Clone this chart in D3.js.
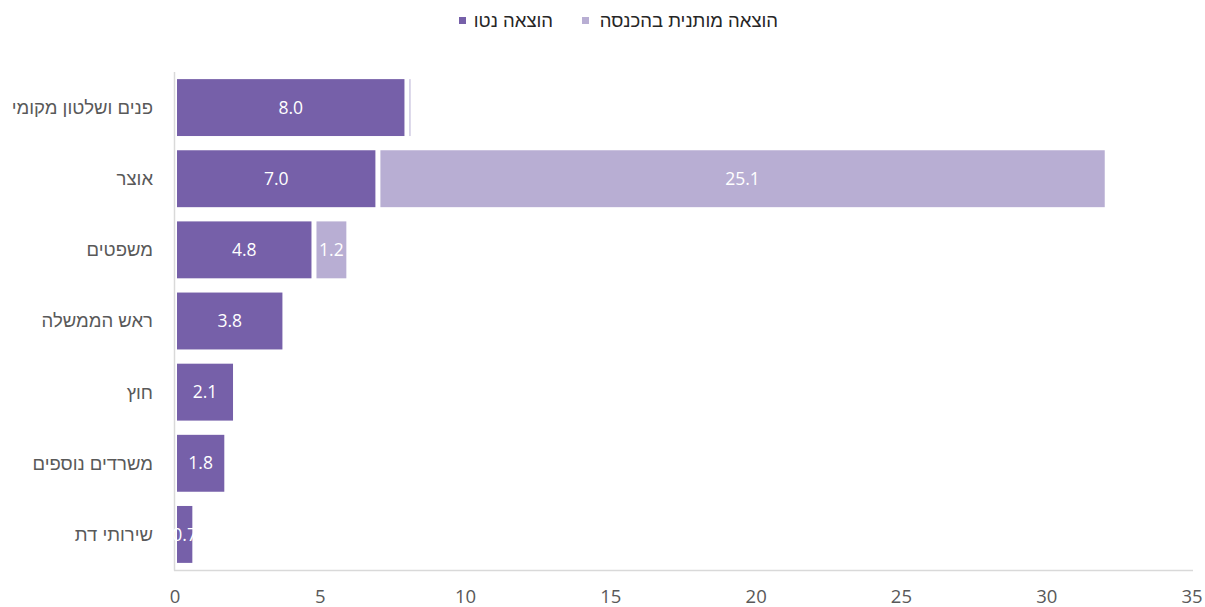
<!DOCTYPE html>
<html><head><meta charset="utf-8">
<script src="https://cdn.jsdelivr.net/npm/d3@7"></script>
<style>body{margin:0;background:#fff}svg{display:block}</style>
</head><body>
<svg id="c" width="1205" height="607"></svg>
<script>
const categories = ["פנים ושלטון מקומי","אוצר","משפטים","ראש הממשלה","חוץ","משרדים נוספים","שירותי דת"];
const netSpend = [8.0, 7.0, 4.8, 3.8, 2.1, 1.8, 0.7];
const conditionalSpend = [0.2, 25.1, 1.2, 0, 0, 0, 0];
const seriesNames = ["הוצאה נטו","הוצאה מותנית בהכנסה"];
const xTicks = [0,5,10,15,20,25,30,35];
const colors = ["#7660a9","#b8aed3"];
const font = "'Open Sans', 'Liberation Sans', sans-serif";
const hebFont = "'Liberation Sans', Arial, sans-serif";
const textColor = "#595959";

const svg = d3.select("#c");
const x = d3.scaleLinear().domain([0,35]).range([175,1192]);
const y = d3.scaleBand().domain(categories).range([72,570]).paddingInner(0.2).paddingOuter(0.1);

// axes lines
svg.append("line").attr("x1",174.5).attr("x2",174.5).attr("y1",72).attr("y2",570.5).attr("stroke","#d9d9d9").attr("stroke-width",1.5);
svg.append("line").attr("x1",174).attr("x2",1193).attr("y1",570.5).attr("y2",570.5).attr("stroke","#d9d9d9").attr("stroke-width",1.5);

// x tick labels
svg.selectAll(".xt").data(xTicks).enter().append("text")
  .attr("x",d=>x(d)).attr("y",603).attr("text-anchor","middle")
  .attr("font-family",font).attr("font-size",18.5).attr("fill",textColor).text(d=>d);

// category labels
svg.selectAll(".cat").data(categories).enter().append("text")
  .attr("x",153).attr("y",d=>y(d)+y.bandwidth()/2).attr("dy","0.35em")
  .attr("text-anchor","end").attr("font-family",hebFont).attr("font-size",18.5).attr("fill",textColor).text(d=>d);

const stacked = categories.map((c,i)=>{
  return [
    {c, s:0, e:netSpend[i], v:netSpend[i], k:0},
    {c, s:netSpend[i], e:netSpend[i]+conditionalSpend[i], v:conditionalSpend[i], k:1}
  ];
}).flat().filter(d=>d.v>0);

const g = svg.append("g");
g.selectAll("rect").data(stacked).enter().append("rect")
  .attr("x",d=>x(d.s)+2).attr("y",d=>y(d.c))
  .attr("width",d=>Math.max(1,x(d.e)-x(d.s)-5)).attr("height",y.bandwidth())
  .attr("fill",d=>colors[d.k]);

g.selectAll("text").data(stacked.filter(d=>x(d.e)-x(d.s)>12)).enter().append("text")
  .attr("x",d=>(x(d.s)+2 + x(d.e)-3)/2).attr("y",d=>y(d.c)+y.bandwidth()/2).attr("dy","0.35em")
  .attr("text-anchor","middle").attr("font-family",font).attr("font-size",17.5).attr("fill","#fff")
  .text(d=>d.v.toFixed(1));

// legend
const leg = [{name:seriesNames[0], col:colors[0], sx:459, tx:553},{name:seriesNames[1], col:colors[1], sx:582, tx:778}];
leg.forEach(l=>{
  svg.append("rect").attr("x",l.sx).attr("y",17).attr("width",7).attr("height",7).attr("fill",l.col);
  svg.append("text").attr("x",l.tx).attr("y",21).attr("dy","0.35em").attr("text-anchor","end")
    .attr("font-family",hebFont).attr("font-size",18.5).attr("fill","#262626").text(l.name);
});
</script>
</body></html>
